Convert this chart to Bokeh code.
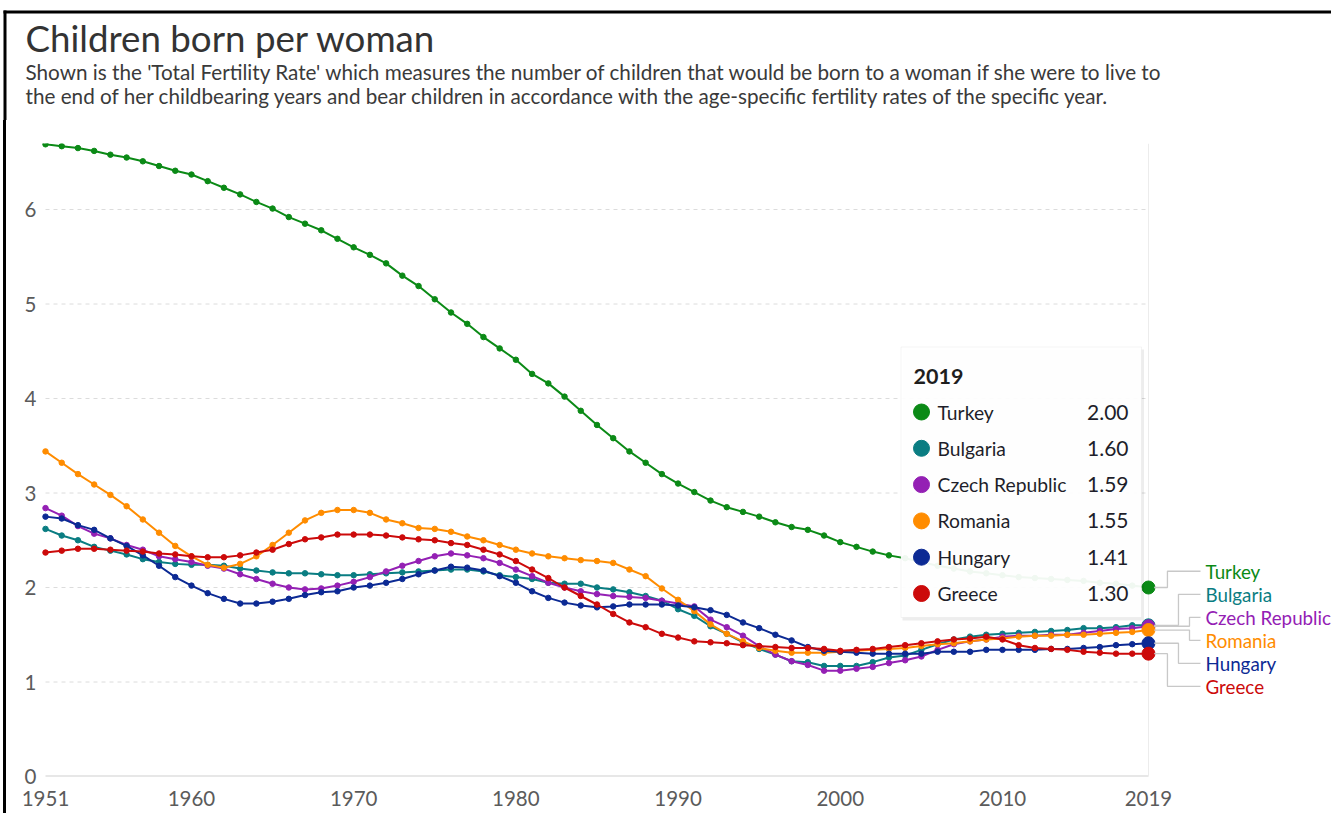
from bokeh.plotting import figure
from bokeh.layouts import column, row
from bokeh.models import Range1d, FixedTicker, LabelSet, ColumnDataSource, BoxAnnotation, Spacer
from bokeh.embed import file_html
from bokeh.resources import INLINE
from bokeh.core.properties import value

# ---------------- data ----------------
years = list(range(1951, 2020))
countries = ["Turkey", "Bulgaria", "Czech Republic", "Romania", "Hungary", "Greece"]
turkey = [6.69, 6.67, 6.65, 6.62, 6.58, 6.55, 6.51, 6.46, 6.41, 6.37,
          6.30, 6.23, 6.16, 6.08, 6.01, 5.92, 5.85, 5.78, 5.69, 5.60,
          5.52, 5.43, 5.30, 5.19, 5.05, 4.91, 4.79, 4.65, 4.53, 4.41,
          4.26, 4.16, 4.02, 3.87, 3.72, 3.58, 3.44, 3.32, 3.20, 3.10,
          3.01, 2.92, 2.85, 2.80, 2.75, 2.69, 2.64, 2.61, 2.55, 2.48,
          2.43, 2.38, 2.34, 2.31, 2.27, 2.23, 2.20, 2.17, 2.15, 2.13,
          2.11, 2.10, 2.09, 2.08, 2.07, 2.05, 2.04, 2.02, 2.00]
bulgaria = [2.62, 2.55, 2.50, 2.43, 2.39, 2.35, 2.30, 2.27, 2.25, 2.24,
            2.24, 2.23, 2.20, 2.18, 2.16, 2.15, 2.15, 2.14, 2.13, 2.13,
            2.14, 2.15, 2.16, 2.17, 2.18, 2.19, 2.19, 2.17, 2.13, 2.11,
            2.09, 2.05, 2.04, 2.04, 2.00, 1.98, 1.95, 1.91, 1.86, 1.77,
            1.70, 1.59, 1.51, 1.42, 1.35, 1.29, 1.22, 1.21, 1.17, 1.17,
            1.17, 1.21, 1.26, 1.28, 1.34, 1.40, 1.45, 1.48, 1.50, 1.51,
            1.52, 1.53, 1.54, 1.55, 1.57, 1.57, 1.58, 1.60, 1.60]
czech = [2.84, 2.76, 2.65, 2.57, 2.52, 2.45, 2.40, 2.33, 2.30, 2.27,
         2.23, 2.20, 2.14, 2.09, 2.04, 2.00, 1.98, 1.99, 2.02, 2.06,
         2.11, 2.17, 2.23, 2.28, 2.33, 2.36, 2.34, 2.31, 2.26, 2.19,
         2.12, 2.05, 2.00, 1.96, 1.93, 1.91, 1.90, 1.89, 1.86, 1.83,
         1.80, 1.66, 1.58, 1.49, 1.38, 1.29, 1.22, 1.18, 1.12, 1.12,
         1.14, 1.16, 1.20, 1.23, 1.27, 1.34, 1.40, 1.43, 1.45, 1.48,
         1.49, 1.49, 1.50, 1.50, 1.52, 1.54, 1.56, 1.57, 1.59]
romania = [3.44, 3.32, 3.20, 3.09, 2.98, 2.86, 2.72, 2.58, 2.44, 2.33,
           2.24, 2.21, 2.25, 2.33, 2.45, 2.58, 2.71, 2.79, 2.82, 2.82,
           2.79, 2.72, 2.68, 2.63, 2.62, 2.59, 2.54, 2.50, 2.45, 2.40,
           2.36, 2.33, 2.31, 2.29, 2.28, 2.26, 2.19, 2.12, 1.99, 1.87,
           1.75, 1.61, 1.51, 1.43, 1.36, 1.33, 1.31, 1.31, 1.31, 1.32,
           1.33, 1.34, 1.35, 1.36, 1.38, 1.40, 1.41, 1.43, 1.45, 1.46,
           1.48, 1.49, 1.49, 1.50, 1.50, 1.51, 1.52, 1.53, 1.55]
hungary = [2.75, 2.73, 2.66, 2.61, 2.52, 2.44, 2.34, 2.23, 2.11, 2.02,
           1.94, 1.88, 1.83, 1.83, 1.85, 1.88, 1.92, 1.95, 1.96, 2.00,
           2.02, 2.05, 2.09, 2.14, 2.18, 2.22, 2.21, 2.18, 2.12, 2.05,
           1.96, 1.89, 1.84, 1.81, 1.79, 1.80, 1.82, 1.82, 1.82, 1.81,
           1.79, 1.76, 1.71, 1.63, 1.57, 1.50, 1.44, 1.37, 1.33, 1.32,
           1.31, 1.30, 1.30, 1.30, 1.30, 1.32, 1.32, 1.32, 1.34, 1.34,
           1.34, 1.34, 1.35, 1.35, 1.36, 1.37, 1.39, 1.40, 1.41]
greece = [2.37, 2.39, 2.41, 2.41, 2.40, 2.39, 2.38, 2.36, 2.35, 2.33,
          2.32, 2.32, 2.34, 2.37, 2.40, 2.46, 2.51, 2.53, 2.56, 2.56,
          2.56, 2.55, 2.53, 2.51, 2.50, 2.47, 2.45, 2.40, 2.35, 2.28,
          2.19, 2.10, 2.00, 1.91, 1.82, 1.72, 1.63, 1.58, 1.51, 1.47,
          1.43, 1.42, 1.41, 1.39, 1.38, 1.37, 1.36, 1.36, 1.35, 1.33,
          1.34, 1.35, 1.37, 1.39, 1.41, 1.43, 1.45, 1.46, 1.48, 1.45,
          1.39, 1.36, 1.35, 1.34, 1.32, 1.31, 1.30, 1.30, 1.30]
series = [turkey, bulgaria, czech, romania, hungary, greece]
colors = ["#0b8a16", "#0a7d82", "#9420b4", "#ff8c00", "#0c2a94", "#cc0a0a"]
x_ticks = [1951, 1960, 1970, 1980, 1990, 2000, 2010, 2019]
y_ticks = [0, 1, 2, 3, 4, 5, 6]

title = "Children born per woman"
subtitle1 = ("Shown is the 'Total Fertility Rate' which measures the number of children that would be born "
             "to a woman if she were to live to")
subtitle2 = ("the end of her childbearing years and bear children in accordance with the age-specific "
             "fertility rates of the specific year.")

FONT = "Lato"

# ---------------- geometry (page pixels) ----------------
W, H = 1331, 813
T = 120            # height of the heading strip
S = 8              # width of the left border strip
MW, MH = W - S, H - T
BL, BR, BT, BB = 32, 0, 23, 37
FRAME_LEFT = S + BL
FRAME_TOP = T + BT
PPX, PPY = 16.22, 94.5
x_start = years[0] - (45 - FRAME_LEFT) / PPX
x_end = x_start + (MW - BL - BR) / PPX
y_start = 0
y_end = (MH - BT - BB) / PPY


def px2x(px):
    return x_start + (px - FRAME_LEFT) / PPX


def py2y(py):
    return y_end - (py - FRAME_TOP) / PPY


def bare(fig):
    fig.outline_line_color = None
    fig.background_fill_color = "white"
    fig.border_fill_color = "white"
    fig.xgrid.visible = False
    fig.ygrid.visible = False
    return fig


# ---------------- heading strip ----------------
head = bare(figure(width=W, height=T, output_backend="svg", toolbar_location=None,
                   x_range=Range1d(0, W), y_range=Range1d(T, 0),
                   x_axis_type=None, y_axis_type=None, min_border=0))
head.segment(x0=[3], x1=[W], y0=[11.5], y1=[11.5], line_color="black", line_width=3)
head.segment(x0=[4.5], x1=[4.5], y0=[10], y1=[T], line_color="black", line_width=3)
head.text(x=[25], y=[37.5], text=[title], text_font=value(FONT), text_font_size="36.7px",
          text_color="#333333", text_baseline="middle")
head.text(x=[25, 25], y=[71.5, 95.5], text=[subtitle1, subtitle2], text_font=value(FONT),
          text_font_size="20.7px", text_color="#3a3a3a", text_baseline="middle")

# ---------------- left border strip ----------------
strip = Spacer(width=S, height=MH,
               styles={"background": "linear-gradient(to right, #ffffff 3px, #000000 3px, "
                                     "#000000 6px, #ffffff 6px)"})

# ---------------- main chart ----------------
p = bare(figure(width=MW, height=MH, output_backend="svg", toolbar_location=None,
                x_range=Range1d(x_start, x_end), y_range=Range1d(y_start, y_end),
                min_border_left=BL, min_border_right=BR, min_border_top=BT, min_border_bottom=BB))

for ax in (p.xaxis[0], p.yaxis[0]):
    ax.axis_line_color = None
    ax.major_tick_line_color = None
    ax.minor_tick_line_color = None
    ax.major_tick_out = 0
    ax.major_tick_in = 0
    ax.minor_tick_out = 0
    ax.major_label_text_font = FONT
    ax.major_label_text_font_size = "20.5px"
    ax.major_label_text_color = "#5b5b5b"
p.xaxis[0].ticker = FixedTicker(ticks=x_ticks)
p.yaxis[0].ticker = FixedTicker(ticks=y_ticks)
p.xaxis[0].major_label_standoff = 14
p.yaxis[0].major_label_standoff = 4

# gridlines (dashed) and baseline across the data span only
gy = y_ticks[1:]
p.segment(x0=[years[0]] * len(gy), x1=[years[-1]] * len(gy), y0=gy, y1=gy,
          line_color="#dcdcdc", line_width=1, line_dash="4 4")
p.segment(x0=[years[0]], x1=[years[-1]], y0=[y_ticks[0]], y1=[y_ticks[0]],
          line_color="#cfcfcf", line_width=2)
p.segment(x0=[years[-1]], x1=[years[-1]], y0=[y_start], y1=[y_end],
          line_color="#ececec", line_width=1)

# series
for vals, col in zip(series, colors):
    p.line(years, vals, line_color=col, line_width=2)
    p.scatter(years[:-1], vals[:-1], size=5.5, color=col)
    p.scatter([years[-1]], [vals[-1]], size=13, color=col)

# end labels with elbow connectors
lasts = [v[-1] for v in series]
n = len(countries)
mean_last = sum(lasts) / n
step = 0.2435
label_y = [mean_last - 0.012 + (2.5 - i) * step for i in range(n)]
elbow_off = [1.17, 1.85, 2.53]
end_x = px2x(1200)
lab_x = px2x(1205)
xs, ys = [], []
for i in range(n):
    ex = years[-1] + elbow_off[min(i, n - 1 - i)]
    xs.append([years[-1] + 0.35, ex, ex, end_x])
    ys.append([lasts[i], lasts[i], label_y[i], label_y[i]])
p.multi_line(xs, ys, line_color="#c8c8c8", line_width=1.3)
lab_src = ColumnDataSource(dict(x=[lab_x] * n, y=label_y, text=countries, color=colors))
p.add_layout(LabelSet(x="x", y="y", text="text", source=lab_src, text_color="color",
                      text_font=value(FONT), text_font_size="18.8px", text_baseline="middle"))

# tooltip-like legend box
p.add_layout(BoxAnnotation(left=px2x(902), right=px2x(1143.5), top=py2y(349), bottom=py2y(620),
                           fill_color="black", fill_alpha=0.07, line_color=None))
p.add_layout(BoxAnnotation(left=px2x(900.5), right=px2x(1141), top=py2y(346.5), bottom=py2y(617),
                           fill_color="white", fill_alpha=0.94, line_color="#dedede", line_width=1))
p.text(x=[px2x(913)], y=[py2y(375.5)], text=[str(years[-1])], text_font=value(FONT),
       text_font_size="21.5px", text_font_style="bold", text_color="#1e1e1e",
       text_baseline="middle", level="overlay")
row_y = [py2y(411.5 + 36.3 * i) for i in range(n)]
p.scatter([px2x(921)] * n, row_y, size=16, color=colors, level="overlay")
leg_src = ColumnDataSource(dict(xn=[px2x(937)] * n, xv=[px2x(1128)] * n, y=row_y, name=countries,
                                val=[f"{v:.2f}" for v in lasts]))
p.text(x="xn", y="y", text="name", source=leg_src, text_color="#1e1e2a",
       text_font=value(FONT), text_font_size="19.3px", text_baseline="middle", level="overlay")
p.text(x="xv", y="y", text="val", source=leg_src, text_color="#1e1e2a",
       text_font=value(FONT), text_font_size="21px", text_baseline="middle",
       text_align="right", level="overlay")

layout = column(head, row(strip, p, spacing=0), spacing=0)
open("out.html", "w").write(file_html(layout, INLINE))
